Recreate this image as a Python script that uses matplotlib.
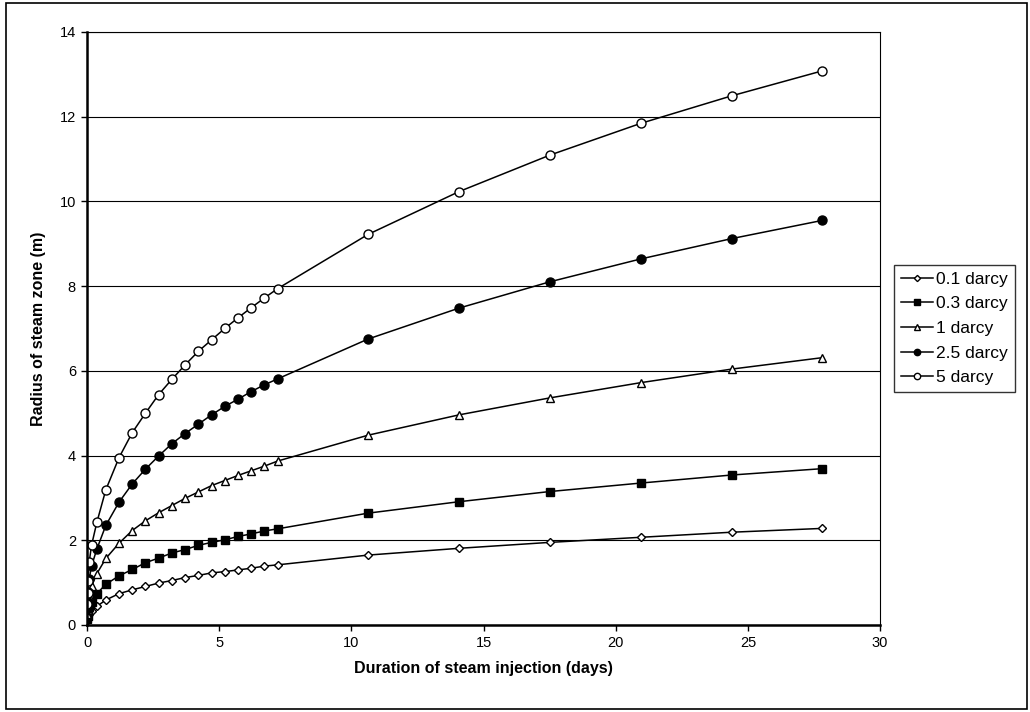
import matplotlib
matplotlib.use('Agg')
import matplotlib.pyplot as plt
from matplotlib.patches import Rectangle

plt.rcParams['font.family'] = ['Liberation Sans', 'DejaVu Sans']

# injection time (days)
days = [0.01, 0.02, 0.04, 0.08, 0.17, 0.37, 0.71, 1.21, 1.71, 2.21, 2.71, 3.21, 3.71,
        4.21, 4.71, 5.21, 5.71, 6.21, 6.71, 7.21, 10.63, 14.07, 17.5, 20.94, 24.38, 27.81]

# radius of steam zone (m) for each permeability
r_01 = [0.10, 0.14, 0.18, 0.25, 0.33, 0.44, 0.59, 0.74, 0.83, 0.91, 0.99, 1.05, 1.12,
        1.17, 1.23, 1.26, 1.30, 1.34, 1.39, 1.42, 1.65, 1.81, 1.95, 2.07, 2.19, 2.28]
r_03 = [0.15, 0.22, 0.30, 0.42, 0.55, 0.74, 0.96, 1.16, 1.31, 1.47, 1.58, 1.70, 1.78,
        1.88, 1.95, 2.01, 2.09, 2.15, 2.22, 2.27, 2.64, 2.91, 3.15, 3.35, 3.54, 3.69]
r_1 = [0.25, 0.36, 0.50, 0.68, 0.92, 1.21, 1.57, 1.93, 2.23, 2.46, 2.65, 2.82, 2.99,
       3.14, 3.29, 3.41, 3.53, 3.64, 3.75, 3.87, 4.48, 4.96, 5.36, 5.72, 6.04, 6.31]
r_25 = [0.38, 0.55, 0.78, 1.08, 1.39, 1.79, 2.35, 2.90, 3.33, 3.68, 3.99, 4.28, 4.52,
        4.74, 4.96, 5.16, 5.33, 5.51, 5.67, 5.81, 6.75, 7.48, 8.10, 8.64, 9.12, 9.55]
r_5 = [0.50, 0.75, 1.05, 1.48, 1.88, 2.42, 3.19, 3.95, 4.54, 5.00, 5.44, 5.80, 6.14,
       6.46, 6.73, 7.00, 7.25, 7.49, 7.72, 7.94, 9.22, 10.23, 11.09, 11.84, 12.49, 13.08]

labels = ['0.1 darcy', '0.3 darcy', '1 darcy', '2.5 darcy', '5 darcy']

fig = plt.figure(figsize=(10.3, 7.12), dpi=100)
ax = fig.add_axes([0.0845, 0.1222, 0.77, 0.833])

# outer chart border
fig.patches.append(Rectangle((0.006, 0.004), 0.991, 0.992, transform=fig.transFigure,
                             fill=False, edgecolor='black', linewidth=1.2))

ax.plot(days, r_01, '-D', color='black', mfc='white', mec='black', ms=4.5, mew=1, lw=1.1, label=labels[0])
ax.plot(days, r_03, '-s', color='black', mfc='black', mec='black', ms=5.5, mew=1, lw=1.1, label=labels[1])
ax.plot(days, r_1, '-^', color='black', mfc='white', mec='black', ms=6, mew=1, lw=1.1, label=labels[2])
ax.plot(days, r_25, '-o', color='black', mfc='black', mec='black', ms=6.5, mew=1, lw=1.1, label=labels[3])
ax.plot(days, r_5, '-o', color='black', mfc='white', mec='black', ms=6.5, mew=1, lw=1.1, label=labels[4])

ax.set_xlim(0, 30)
ax.set_ylim(0, 14)
ax.set_xticks(range(0, 31, 5))
ax.set_yticks(range(0, 15, 2))
ax.yaxis.grid(True, color='black', linewidth=0.8)
ax.set_axisbelow(True)
ax.tick_params(direction='out', length=4, width=1, labelsize=10.5, pad=4)

for s in ['left', 'bottom']:
    ax.spines[s].set_linewidth(1.8)
for s in ['top', 'right']:
    ax.spines[s].set_linewidth(0.8)

ax.set_xlabel('Duration of steam injection (days)', fontsize=11.5, fontweight='bold', labelpad=8)
ax.set_ylabel('Radius of steam zone (m)', fontsize=11.5, fontweight='bold', labelpad=10)

leg = ax.legend(loc='center left', bbox_to_anchor=(1.018, 0.5), fontsize=12.5, frameon=True,
                fancybox=False, edgecolor='black', handlelength=1.8, handletextpad=0.2,
                borderpad=0.4, labelspacing=0.55, markerscale=0.7, borderaxespad=0)
leg.get_frame().set_linewidth(1)

plt.savefig('out.png', dpi=100)
